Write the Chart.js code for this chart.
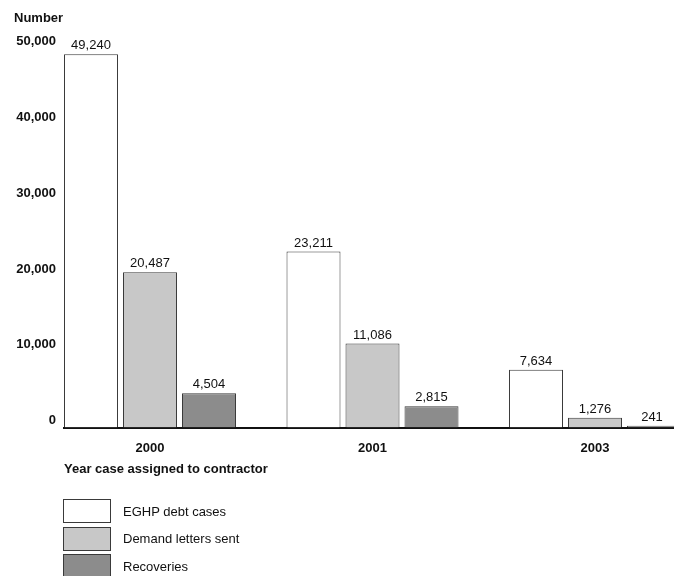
<!DOCTYPE html>
<html>
<head>
<meta charset="utf-8">
<script src="https://cdn.jsdelivr.net/npm/chart.js@4"></script>
<style>
  html, body { margin: 0; padding: 0; background: #fff; overflow: hidden; }
  #wrap { position: relative; width: 674px; height: 576px; }
  #legend { position: absolute; left: 63px; top: 499px; margin: 0; padding: 0; list-style: none;
            font: 13px "Liberation Sans", Arial, sans-serif; color: #111; }
  #legend li { display: flex; align-items: center; height: 24px; margin-bottom: 3.6px; }
  #legend span.box { display: inline-block; width: 46px; height: 22px; border: 1px solid #444; margin-right: 12px; }
</style>
</head>
<body>
<div id="wrap">
  <canvas id="myChart" width="674" height="576"></canvas>
  <ul id="legend"></ul>
</div>
<script>
const years = ["2000", "2001", "2003"];
const debtCases = [49240, 23211, 7634];
const demandLetters = [20487, 11086, 1276];
const recoveries = [4504, 2815, 241];
const yTicks = [0, 10000, 20000, 30000, 40000, 50000];

const FONT = '"Liberation Sans", Arial, sans-serif';
const fmt = (v) => v.toLocaleString("en-US");
const points = (arr) => arr.map((v, i) => ({ x: i, y: v }));

// value labels above each bar
const barLabels = {
  id: "barLabels",
  afterDatasetsDraw(chart) {
    const ctx = chart.ctx;
    ctx.save();
    ctx.font = "13px " + FONT;
    ctx.fillStyle = "#111";
    ctx.textAlign = "center";
    ctx.textBaseline = "bottom";
    chart.data.datasets.forEach((ds, i) => {
      chart.getDatasetMeta(i).data.forEach((bar, j) => {
        const x = Math.min(bar.x, 652);
        ctx.fillText(fmt(ds.data[j].y), x, bar.y - 2);
      });
    });
    ctx.restore();
  }
};

// html legend built from the chart's own legend items
const htmlLegend = {
  id: "htmlLegend",
  afterUpdate(chart) {
    const ul = document.getElementById("legend");
    ul.innerHTML = "";
    chart.options.plugins.legend.labels.generateLabels(chart).forEach((item) => {
      const li = document.createElement("li");
      const box = document.createElement("span");
      box.className = "box";
      box.style.background = item.fillStyle;
      box.style.borderColor = item.strokeStyle;
      li.appendChild(box);
      li.appendChild(document.createTextNode(item.text));
      ul.appendChild(li);
    });
  }
};

const ctx = document.getElementById("myChart").getContext("2d");
const myChart = new Chart(ctx, {
  type: "bar",
  data: {
    datasets: [
      { label: "EGHP debt cases", data: points(debtCases), backgroundColor: "#ffffff", borderColor: "#3a3a3a", borderWidth: 1 },
      { label: "Demand letters sent", data: points(demandLetters), backgroundColor: "#c8c8c8", borderColor: "#3a3a3a", borderWidth: 1 },
      { label: "Recoveries", data: points(recoveries), backgroundColor: "#8c8c8c", borderColor: "#3a3a3a", borderWidth: 1 },
    ],
  },
  options: {
    responsive: false,
    animation: false,
    categoryPercentage: 0.7955,
    barPercentage: 0.915,
    layout: { padding: { left: 14, right: 0, top: 0, bottom: 0 } },
    plugins: {
      legend: { display: false },
      tooltip: { enabled: false },
      title: {
        display: true,
        text: "Number",
        align: "start",
        color: "#111",
        font: { family: FONT, size: 13, weight: "bold" },
        padding: { top: 11, bottom: 22 },
      },
    },
    scales: {
      x: {
        type: "linear",
        offset: false,
        min: -0.3865,
        max: 2.355,
        grid: { display: false, drawTicks: false },
        border: { display: true, color: "#111", width: 2 },
        afterBuildTicks: (s) => { s.ticks = years.map((_, i) => ({ value: i })); },
        afterFit: (s) => { s.height = 148.5; },
        ticks: {
          padding: 13,
          color: "#111",
          font: { family: FONT, size: 13, weight: "bold" },
          callback: (v) => years[v],
        },
        title: {
          display: true,
          text: "Year case assigned to contractor",
          align: "start",
          color: "#111",
          font: { family: FONT, size: 13, weight: "bold" },
          padding: { top: 0, bottom: 99 },
        },
      },
      y: {
        min: 0,
        max: 50000,
        grid: { display: false, drawTicks: false },
        border: { display: false },
        afterBuildTicks: (s) => { s.ticks = yTicks.map((v) => ({ value: v })); },
        afterFit: (s) => { s.width = 50; },
        ticks: {
          padding: 8,
          labelOffset: -7,
          color: "#111",
          font: { family: FONT, size: 13, weight: "bold" },
          callback: (v) => fmt(v),
        },
      },
    },
  },
  plugins: [barLabels, htmlLegend],
});
</script>
</body>
</html>
